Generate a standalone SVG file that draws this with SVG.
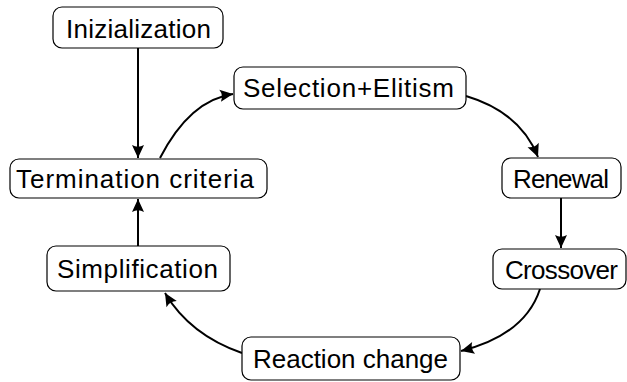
<svg xmlns="http://www.w3.org/2000/svg" width="627" height="382" viewBox="0 0 627 382">
<style>
.box{fill:#fff;stroke:#000;stroke-width:1.2}
.lbl{font-family:"Liberation Sans","DejaVu Sans",sans-serif;font-size:26px;fill:#000;text-anchor:middle}
.edge{fill:none;stroke:#000;stroke-width:2;marker-end:url(#arr)}
</style>
<defs>
<marker id="arr" markerUnits="userSpaceOnUse" markerWidth="16" markerHeight="14" viewBox="-14 -7 16 14" refX="0" refY="0" orient="auto">
<path d="M0,0 L-13,-6 Q-9.5,0 -13,6 Z" fill="#000"/>
</marker>
</defs>
<g id="connectors">
<path class="edge" d="M138,48 L138,158"/>
<path class="edge" d="M160,158 Q190,100 233,94"/>
<path class="edge" d="M466,96 Q520,112 538,157"/>
<path class="edge" d="M561,198 L561,248"/>
<path class="edge" d="M540,289 Q525,335 461,351"/>
<path class="edge" d="M242,353 Q190,335 165,293"/>
<path class="edge" d="M138,246 L138,199"/>
</g>
<g id="n-init"><rect class="box" x="53" y="7" width="170" height="41" rx="9"/><text class="lbl" x="138.5" y="38" textLength="145">Inizialization</text></g>
<g id="n-term"><rect class="box" x="10" y="159" width="257" height="39" rx="9"/><text class="lbl" x="135" y="188" textLength="238">Termination criteria</text></g>
<g id="n-sel"><rect class="box" x="234" y="67" width="232" height="42" rx="9"/><text class="lbl" x="348.5" y="97" textLength="211">Selection+Elitism</text></g>
<g id="n-ren"><rect class="box" x="502" y="158" width="119" height="40" rx="9"/><text class="lbl" x="561" y="188" textLength="96">Renewal</text></g>
<g id="n-cross"><rect class="box" x="493" y="249" width="133" height="40" rx="9"/><text class="lbl" x="561.5" y="279" textLength="113">Crossover</text></g>
<g id="n-simp"><rect class="box" x="47" y="246" width="183" height="45" rx="9"/><text class="lbl" x="137.5" y="278" textLength="161">Simplification</text></g>
<g id="n-react"><rect class="box" x="242" y="337" width="218" height="43" rx="9"/><text class="lbl" x="350.5" y="368" textLength="195">Reaction change</text></g>
</svg>
